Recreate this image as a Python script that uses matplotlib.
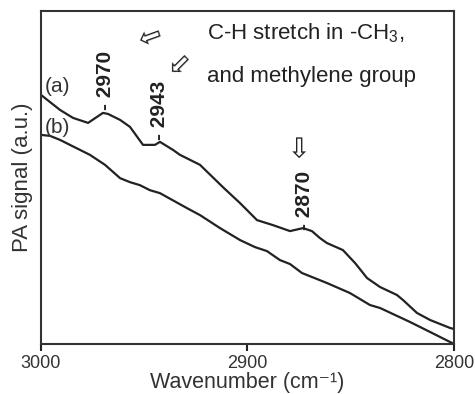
import matplotlib
matplotlib.use("Agg")
import matplotlib.pyplot as plt

plt.rcParams['font.family'] = ['Liberation Sans', 'DejaVu Sans']
plt.rcParams['mathtext.default'] = 'regular'

# spectrum (a)
wn_a = [3000, 2990.8, 2984.5, 2977.2, 2970.0, 2967.6, 2961.7, 2956.9, 2950.6, 2944.8,
        2942.4, 2936.1, 2932.7, 2923.0, 2911.9, 2903.6, 2895.4, 2887.7, 2879.4, 2873.1,
        2868.8, 2864.9, 2861.5, 2853.8, 2847.9, 2842.1, 2835.8, 2827.6, 2824.7, 2817.9,
        2811.6, 2801.9, 2800]
sig_a = [0.748, 0.703, 0.679, 0.664, 0.694, 0.691, 0.673, 0.652, 0.598, 0.598,
         0.607, 0.583, 0.568, 0.538, 0.471, 0.423, 0.372, 0.357, 0.339, 0.348,
         0.339, 0.318, 0.303, 0.282, 0.243, 0.198, 0.171, 0.147, 0.132, 0.093,
         0.072, 0.048, 0.045]

# spectrum (b)
wn_b = [3000, 2995.6, 2990.8, 2986.0, 2976.3, 2969.0, 2961.7, 2956.9, 2952.1, 2947.3,
        2942.4, 2929.3, 2923.0, 2913.3, 2903.6, 2896.4, 2890.6, 2884.3, 2879.4, 2873.6,
        2861.5, 2850.4, 2840.7, 2835.8, 2821.3, 2811.6, 2800]
sig_b = [0.628, 0.625, 0.613, 0.598, 0.568, 0.538, 0.498, 0.486, 0.477, 0.462,
         0.453, 0.408, 0.387, 0.348, 0.312, 0.291, 0.279, 0.252, 0.240, 0.213,
         0.183, 0.153, 0.117, 0.108, 0.066, 0.036, 0.0]

peaks = ["2970", "2943", "2870"]
peak_x = [2969, 2942.4, 2872.6]
peak_y = [0.703, 0.613, 0.342]

arrow_x = [2947.2, 2932.7, 2874.6]
arrow_y = [0.922, 0.841, 0.592]
arrow_rot = [20, 45, 90]

xticks = [3000, 2900, 2800]

fig = plt.figure(figsize=(4.75, 3.94), dpi=100)
ax = fig.add_axes([0.0863, 0.127, 0.8695, 0.845])

col = '#222222'
ax.plot(wn_a, sig_a, color=col, lw=1.6)
ax.plot(wn_b, sig_b, color=col, lw=1.6)

ax.set_xlim(3000, 2800)
ax.set_ylim(0, 1)
ax.set_xticks(xticks)
ax.set_xticklabels([str(t) for t in xticks], fontsize=13, color='#333333')
ax.set_yticks([])
ax.tick_params(axis='x', direction='out', length=5, width=1.5, color=col, pad=3)
for s in ax.spines.values():
    s.set_linewidth(1.5)
    s.set_color('#333333')

ax.set_xlabel("Wavenumber (cm\u207b\u00b9)", fontsize=15.5, color='#333333', va='center')
ax.xaxis.set_label_coords(0.5, -0.116)
ax.set_ylabel("PA signal (a.u.)", fontsize=16, labelpad=6, color='#333333')

for lab, x, y in zip(peaks, peak_x, peak_y):
    ax.text(x, y, "- " + lab, rotation=90, ha='center', va='bottom',
            fontsize=15, fontweight='bold', color=col)

for x, y, r in zip(arrow_x, arrow_y, arrow_rot):
    ax.text(x, y, "\u21e6", rotation=r, ha='center', va='center',
            fontsize=20, family='DejaVu Sans', color=col,
            rotation_mode='anchor')

ax.text(0.01, 0.772, "(a)", transform=ax.transAxes, ha='left', va='center',
        fontsize=15, color='#333333')
ax.text(0.01, 0.649, "(b)", transform=ax.transAxes, ha='left', va='center',
        fontsize=15, color='#333333')

ax.text(0.402, 0.934, "C-H stretch in -CH$_3$,", transform=ax.transAxes,
        ha='left', va='center', fontsize=16, color=col)
ax.text(0.402, 0.802, "and methylene group", transform=ax.transAxes,
        ha='left', va='center', fontsize=16, color=col)

fig.savefig("out.png", dpi=100)
